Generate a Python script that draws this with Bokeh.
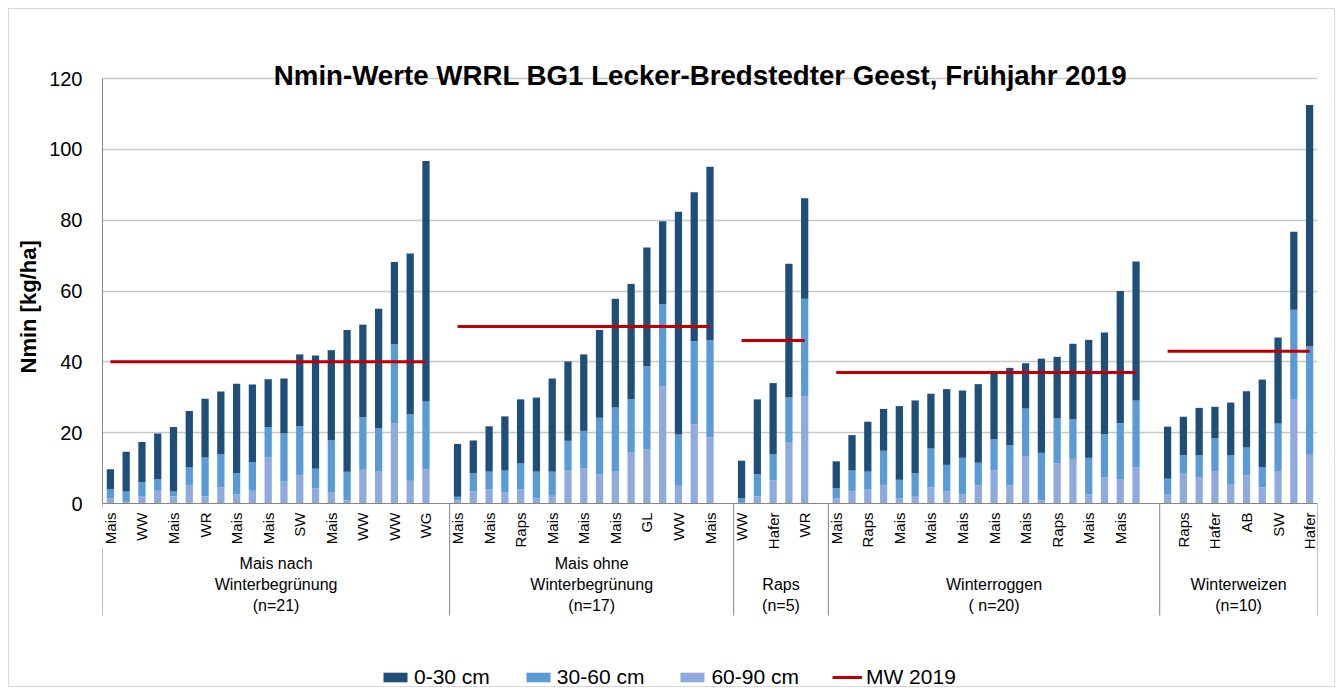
import math
from bokeh.plotting import figure
from bokeh.models import (ColumnDataSource, FixedTicker, Range1d, Legend, LegendItem,
                          Span, Title)
from bokeh.core.properties import value
from bokeh.embed import file_html
from bokeh.resources import INLINE

# ---------------- data ----------------
TITLE = "Nmin-Werte WRRL BG1 Lecker-Bredstedter Geest, Frühjahr 2019"
Y_LABEL = "Nmin  [kg/ha]"
layer_names = ["0-30 cm", "30-60 cm", "60-90 cm"]
mw_name = "MW 2019"

group_names = ["Mais nach\nWinterbegrünung", "Mais ohne\nWinterbegrünung",
               "Raps", "Winterroggen", "Winterweizen"]
group_n = ["(n=21)", "(n=17)", "(n=5)", "( n=20)", "(n=10)"]
group_sizes = [21, 17, 5, 20, 10]
mw_2019 = [40, 50, 46, 37, 43]

# visible category labels (every second slot of the category axis)
crop_labels = ["Mais", "WW", "Mais", "WR", "Mais", "Mais", "SW", "Mais", "WW", "WW", "WG",
               "Mais", "Mais", "Raps", "Mais", "Mais", "Mais", "GL", "WW", "Mais",
               "WW", "Hafer", "WR",
               "Mais", "Raps", "Mais", "Mais", "Mais", "Mais", "Mais", "Raps", "Mais", "Mais", "",
               "Raps", "Hafer", "AB", "SW", "Hafer"]

n_0_30 = [5.7, 11.2, 11.4, 12.9, 18.2, 15.8, 16.6, 17.7, 25.2, 21.9, 13.5, 15.5, 20.3, 32.0, 25.4, 40.0, 26.1, 33.8, 23.2, 45.5, 67.9,
          14.9, 9.2, 12.8, 15.3, 18.1, 20.9, 26.3, 22.4, 21.6, 24.8, 30.7, 32.5, 33.5, 23.4, 62.9, 42.1, 49.1,
          10.6, 21.1, 20.1, 37.8, 28.4,
          7.6, 10.0, 14.1, 11.8, 20.8, 20.5, 15.5, 21.4, 19.0, 22.2, 18.8, 21.8, 12.8, 26.6, 17.3, 21.3, 33.3, 28.7, 37.3, 39.2,
          14.7, 10.9, 13.4, 8.9, 14.9, 15.9, 24.8, 24.3, 22.0, 68.2]
n_30_60 = [2.6, 2.9, 4.0, 3.1, 1.4, 5.2, 11.0, 9.4, 6.0, 8.1, 8.6, 13.5, 13.8, 5.5, 14.8, 8.1, 14.9, 12.2, 22.3, 18.7, 19.2,
           1.0, 5.2, 5.0, 6.1, 7.3, 7.5, 6.8, 8.4, 10.6, 16.0, 18.1, 15.0, 23.6, 23.2, 14.5, 23.5, 27.3,
           1.3, 6.3, 7.4, 12.7, 27.6,
           2.8, 5.9, 5.1, 9.8, 5.2, 6.7, 10.9, 7.5, 10.3, 6.4, 8.9, 11.4, 13.4, 13.4, 12.8, 11.2, 10.3, 12.3, 15.8, 18.9,
           4.5, 5.2, 6.1, 9.4, 8.3, 7.8, 5.7, 13.4, 25.2, 30.5]
n_60_90 = [1.4, 0.5, 2.0, 3.8, 2.0, 5.1, 2.0, 4.5, 2.6, 3.6, 13.0, 6.3, 8.0, 4.3, 3.1, 0.9, 9.5, 9.0, 22.7, 6.4, 9.6,
           0.9, 3.4, 4.0, 3.2, 4.0, 1.5, 2.2, 9.3, 9.9, 8.2, 9.0, 14.5, 15.2, 33.1, 5.0, 22.3, 18.7,
           0.2, 2.0, 6.5, 17.2, 30.2,
           1.5, 3.4, 3.9, 5.1, 1.5, 1.9, 4.6, 3.4, 2.6, 5.1, 9.3, 5.1, 13.4, 0.9, 11.3, 12.6, 2.6, 7.3, 6.9, 10.2,
           2.5, 8.4, 7.5, 9.0, 5.3, 8.0, 4.5, 9.2, 29.5, 13.8]

assert len(n_0_30) == len(n_30_60) == len(n_60_90) == sum(group_sizes)

# ---------------- styling / layout constants ----------------
FONT = "Liberation Sans"
C_DARK, C_MID, C_LIGHT = "#1F4E79", "#5B9BD5", "#8FAADC"
C_MW = "#C00000"
C_AXIS = "#868686"
C_GRID = "#C8C8C8"

W, H = 1343, 695
PLOT_L, PLOT_R = 102, 1317        # pixel extent of the category axis
PLOT_T, PLOT_B = 78, 503          # pixel extent of the value axis (120 .. 0)
Y_MAX = 120

# ---------------- slot layout (one empty slot after each group but the last) ----------------
bar_x = []
group_edges = []
mw_xs, mw_ys = [], []
pos = 1
for gi, size in enumerate(group_sizes):
    xs = list(range(pos, pos + size))
    bar_x += xs
    n_slots = size + (1 if gi < len(group_sizes) - 1 else 0)
    group_edges.append((pos - 0.5, pos - 0.5 + n_slots))
    mw_xs.append(xs)
    mw_ys.append([mw_2019[gi]] * size)
    pos += n_slots
n_total = pos - 1
label_ticks = list(range(1, n_total + 1, 2))
assert len(label_ticks) == len(crop_labels)

x_ppu = (PLOT_R - PLOT_L) / n_total
y_ppu = (PLOT_B - PLOT_T) / Y_MAX

def x_at(px):
    return 0.5 + (px - PLOT_L) / x_ppu

def y_at(py):
    return (PLOT_B - py) / y_ppu

src = ColumnDataSource(dict(x=bar_x, d0=n_0_30, d1=n_30_60, d2=n_60_90))

p = figure(width=W, height=H,
           x_range=Range1d(0.5, n_total + 0.5),
           y_range=Range1d(y_at(H), y_at(0)),
           x_axis_location=None,
           output_backend="svg", toolbar_location=None,
           min_border_left=PLOT_L, min_border_right=W - PLOT_R, min_border_top=0, min_border_bottom=0)
p.outline_line_color = None
p.background_fill_color = "white"
p.border_fill_color = "white"
p.stylesheets = [
    ":host { position: relative; }"
    ":host::after { content: ''; position: absolute; left: 8px; top: 8px; right: 8px; bottom: 8px;"
    " border: 1px solid #D9D9D9; pointer-events: none; z-index: 100; }"
]

# bars
rs = p.vbar_stack(["d2", "d1", "d0"], x="x", width=0.46, source=src,
                  color=[C_LIGHT, C_MID, C_DARK], line_color=None)

# y axis
p.yaxis.ticker = FixedTicker(ticks=list(range(0, Y_MAX + 1, 20)))
p.yaxis.bounds = (0, Y_MAX)
p.ygrid.ticker = FixedTicker(ticks=list(range(20, Y_MAX + 1, 20)))
p.ygrid.grid_line_color = C_GRID
p.ygrid.grid_line_width = 1.5
p.xgrid.visible = False
p.yaxis.major_label_text_font = FONT
p.yaxis.major_label_text_font_size = "20px"
p.yaxis.major_label_text_color = "black"
p.yaxis.major_label_standoff = 20
p.yaxis.major_tick_out = 0
p.yaxis.major_tick_in = 0
p.yaxis.minor_tick_out = 0
p.yaxis.minor_tick_in = 0
p.yaxis.axis_line_color = C_AXIS

ylab = Title(text=Y_LABEL, align="left", offset=H - 373, standoff=12,
             text_font=FONT, text_font_size="22px", text_font_style="bold", text_color="black")
p.add_layout(ylab, "left")

# x axis line
p.add_layout(Span(location=0, dimension="width", line_color=C_AXIS, line_width=1))

# mean value lines
r_mw = p.multi_line(xs=mw_xs, ys=mw_ys, line_color=C_MW, line_width=3)

# category labels (vertical, reading upwards)
p.text(x=label_ticks, y=[y_at(PLOT_B + 9)] * len(label_ticks), text=crop_labels,
       angle=math.pi / 2, text_align="right", text_baseline="middle",
       text_font=value(FONT), text_font_size="15px", text_color="black")

# group separators
sep_x0, sep_y0, sep_y1 = [], [], []
for i, (l, r) in enumerate(group_edges):
    if i == 0:
        sep_x0 += [l, l]
        sep_y0 += [y_at(PLOT_B), y_at(PLOT_B + 44)]
        sep_y1 += [y_at(PLOT_B + 4), y_at(PLOT_B + 112)]
    sep_x0.append(r)
    sep_y0.append(y_at(PLOT_B))
    sep_y1.append(y_at(PLOT_B + 112))
p.segment(x0=sep_x0, y0=sep_y0, x1=sep_x0, y1=sep_y1, line_color=C_AXIS, line_width=1)

# group labels (bottom aligned rows)
gx, gy, gt = [], [], []
for gi, (l, r) in enumerate(group_edges):
    lines = group_names[gi].split("\n") + [group_n[gi]]
    for k, txt in enumerate(reversed(lines)):
        gx.append((l + r) / 2)
        gy.append(y_at(605 - 21 * k))
        gt.append(txt)
p.text(x=gx, y=gy, text=gt, text_align="center", text_baseline="middle",
       text_font=value(FONT), text_font_size="16px", text_color="black")

# chart title
p.text(x=[x_at(700)], y=[y_at(75)], text=[TITLE], text_align="center", text_baseline="middle",
       text_font=value(FONT), text_font_size="27.7px", text_font_style="bold", text_color="black")

legend = Legend(items=[LegendItem(label=layer_names[0], renderers=[rs[2]]),
                       LegendItem(label=layer_names[1], renderers=[rs[1]]),
                       LegendItem(label=layer_names[2], renderers=[rs[0]]),
                       LegendItem(label=mw_name, renderers=[r_mw])],
                orientation="horizontal", location=(380 - PLOT_L, H - 689),
                glyph_width=30, glyph_height=12, label_standoff=4, spacing=33,
                padding=0, margin=0, border_line_color=None, background_fill_alpha=0,
                label_text_font=FONT, label_text_font_size="21px", label_text_color="black",
                label_height=24)
p.add_layout(legend)

open("out.html", "w").write(file_html(p, INLINE))
